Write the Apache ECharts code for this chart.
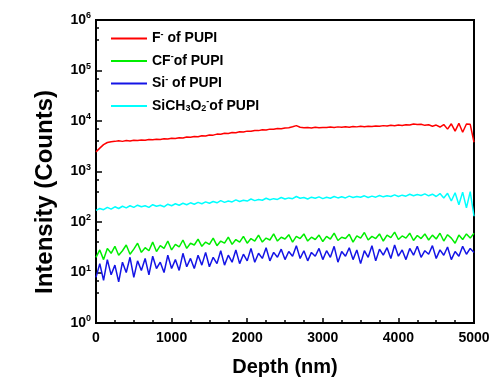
<!DOCTYPE html>
<html>
<head>
<meta charset="utf-8">
<script src="https://cdn.jsdelivr.net/npm/echarts@6/dist/echarts.min.js"></script>
<style>
html,body{margin:0;padding:0;background:#fff;}
#chart{width:500px;height:383px;}
</style>
</head>
<body>
<div id="chart"></div>
<script>
var depth = [0,50,100,150,200,250,300,350,400,450,500,550,600,650,700,750,800,850,900,950,
1000,1050,1100,1150,1200,1250,1300,1350,1400,1450,1500,1550,1600,1650,1700,1750,1800,1850,1900,1950,
2000,2050,2100,2150,2200,2250,2300,2350,2400,2450,2500,2550,2600,2650,2700,2750,2800,2850,2900,2950,
3000,3050,3100,3150,3200,3250,3300,3350,3400,3450,3500,3550,3600,3650,3700,3750,3800,3850,3900,3950,
4000,4050,4100,4150,4200,4250,4300,4350,4400,4450,4500,4550,4600,4650,4700,4750,4800,4850,4900,4950,5000];

var fIon = [2450,2900,3400,3750,3900,3950,4050,3950,4100,4000,4150,4100,4200,4150,4300,4250,4350,4300,4450,4400,
4550,4500,4650,4600,4800,4750,4950,4900,5100,5050,5300,5250,5500,5450,5700,5650,5900,5850,6100,6050,
6300,6250,6500,6450,6700,6650,6900,6850,7100,7000,7300,7350,7700,8100,7500,7350,7450,7300,7500,7350,
7450,7400,7600,7450,7650,7500,7700,7550,7750,7650,7850,7700,7900,7800,8000,7850,8100,7950,8200,8050,
8300,8150,8450,8300,8700,8500,8600,8200,8400,7900,8300,7600,8500,6900,8800,6300,9000,6000,8700,8600,3800];

var cfIon = [20,28,18,30,24,33,22,27,35,23,29,38,25,31,27,40,26,34,30,42,
28,36,32,44,30,38,35,46,33,40,36,48,34,42,38,50,36,45,40,52,
38,47,42,55,40,48,44,58,42,50,46,56,40,52,47,58,42,50,45,55,
41,52,46,60,43,50,47,57,40,53,48,62,44,52,47,58,42,55,49,63,
45,53,48,60,43,54,47,58,44,55,46,60,42,56,48,38,55,45,58,48,60];

var siIon = [8,15,7,18,9,14,6.5,16,10,20,8,17,11,19,9,21,12,16,10,22,
12,18,11,24,13,19,12,22,14,25,13,20,15,27,14,22,16,28,15,23,
17,30,16,24,19,31,17,25,20,29,18,26,21,34,19,27,17,25,21,30,
18,27,20,33,16,26,21,31,18,28,15,27,20,34,17,29,22,31,19,35,
21,28,18,30,22,33,20,27,23,34,19,28,22,32,18,26,21,33,23,30,25];

var sich3o2Ion = [170,185,175,195,180,200,185,205,190,210,195,215,200,210,195,220,205,215,200,225,
210,230,215,235,220,240,225,245,230,250,235,255,240,265,245,260,250,275,255,270,
260,285,265,280,270,295,275,290,280,305,285,300,290,320,295,305,285,310,295,315,
290,310,295,320,300,315,300,325,305,320,310,330,305,325,310,335,315,330,320,345,
320,340,325,355,330,350,335,360,330,355,320,365,300,370,260,380,220,390,190,400,130];

var seriesNames = ['F- of PUPI','CF- of PUPI','Si- of PUPI','SiCH3O2- of PUPI'];
var seriesColors = ['#ff0000','#00ee00','#1414e6','#00ffff'];
var seriesValues = [fIon, cfIon, siIon, sich3o2Ion];

var legendRich = {
  'F- of PUPI': '{t|F}{sup|-}{t| of PUPI}',
  'CF- of PUPI': '{t|CF}{sup|-}{t|of PUPI}',
  'Si- of PUPI': '{t|Si}{sup|-}{t| of PUPI}',
  'SiCH3O2- of PUPI': '{t|SiCH}{sub|3}{t|O}{sub|2}{sup|-}{t|of PUPI}'
};

var font = 'Liberation Sans, Arial, sans-serif';

var series = seriesNames.map(function(n, i){
  return {
    name: n,
    type: 'line',
    data: depth.map(function(d, j){ return [d, seriesValues[i][j]]; }),
    symbol: 'none',
    lineStyle: {color: seriesColors[i], width: 1.5},
    itemStyle: {color: seriesColors[i]},
    animation: false
  };
});

var chart = echarts.init(document.getElementById('chart'));
chart.setOption({
  backgroundColor: '#fff',
  animation: false,
  grid: {left: 96, right: 26, top: 20, bottom: 60, show: true, borderColor: '#000', borderWidth: 2},
  legend: {
    left: 111, top: 30, padding: 0, orient: 'vertical', itemWidth: 36, itemHeight: 14, itemGap: 7,
    icon: 'path://M0,6 L36,6 L36,8 L0,8 Z',
    data: seriesNames,
    formatter: function(n){ return legendRich[n]; },
    textStyle: {
      fontFamily: font, fontWeight: 'bold', fontSize: 14, color: '#000',
      rich: {
        t: {fontFamily: font, fontWeight: 'bold', fontSize: 14, color: '#000'},
        sup: {fontFamily: font, fontWeight: 'bold', fontSize: 9, color: '#000', padding: [0,0,8,0]},
        sub: {fontFamily: font, fontWeight: 'bold', fontSize: 9, color: '#000', padding: [6,0,0,0]}
      }
    }
  },
  graphic: [{
    type: 'text', rotation: Math.PI/2,
    style: {text: 'Intensity (Counts)', font: 'bold 24px Liberation Sans, Arial, sans-serif', fill: '#000',
      textAlign: 'center', textVerticalAlign: 'middle'},
    position: [45, 192]
  }],
  xAxis: {
    type: 'value', min: 0, max: 5000, interval: 1000,
    axisLine: {lineStyle: {color: '#000', width: 2}},
    axisTick: {inside: true, length: 5, lineStyle: {color: '#000', width: 1.5}},
    minorTick: {show: true, splitNumber: 4, length: 3, lineStyle: {color: '#000', width: 1.5}},
    splitLine: {show: false},
    axisLabel: {fontFamily: font, fontWeight: 'bold', fontSize: 14, color: '#000', margin: 8,
      formatter: function(v){ return String(v); }},
    name: 'Depth (nm)', nameLocation: 'middle', nameGap: 34,
    nameTextStyle: {fontFamily: font, fontWeight: 'bold', fontSize: 20, color: '#000'}
  },
  yAxis: {
    type: 'log', logBase: 10, min: 1, max: 1000000,
    axisLine: {lineStyle: {color: '#000', width: 2}},
    axisTick: {inside: true, length: 6, lineStyle: {color: '#000', width: 1.5}},
    minorTick: {show: true, splitNumber: 3, length: 3, lineStyle: {color: '#000', width: 1.5}},
    splitLine: {show: false},
    axisLabel: {
      margin: 5,
      formatter: function(v){ return '{b|10}{s|' + Math.round(Math.log10(v)) + '}'; },
      rich: {
        b: {fontFamily: font, fontWeight: 'bold', fontSize: 14, color: '#000'},
        s: {fontFamily: font, fontWeight: 'bold', fontSize: 9, color: '#000', padding: [0,0,8,0]}
      }
    }
  },
  series: series
});
</script>
</body>
</html>
